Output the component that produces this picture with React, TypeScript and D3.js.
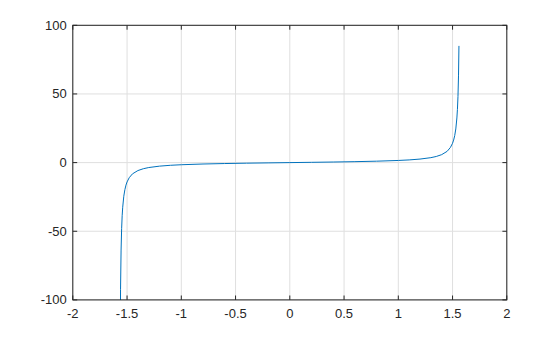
import React from "react";
import * as d3 from "d3";

const xTicks = [-2, -1.5, -1, -0.5, 0, 0.5, 1, 1.5, 2];
const yTicks = [-100, -50, 0, 50, 100];
const xTickLabels = ["-2", "-1.5", "-1", "-0.5", "0", "0.5", "1", "1.5", "2"];
const yTickLabels = ["-100", "-50", "0", "50", "100"];

const xs = [-1.566, -1.56, -1.555, -1.55, -1.545, -1.54, -1.53, -1.52, -1.51, -1.5, -1.48, -1.45, -1.4, -1.35, -1.3, -1.2, -1.1, -1.0, -0.8, -0.6, -0.4, -0.2, 0, 0.2, 0.4, 0.6, 0.8, 1.0, 1.1, 1.2, 1.3, 1.35, 1.4, 1.45, 1.48, 1.5, 1.51, 1.52, 1.53, 1.54, 1.545, 1.55, 1.555, 1.559];
const ys = [-208, -92.6, -63.7, -48.1, -38.7, -32.5, -24.5, -19.7, -16.4, -14.1, -11.0, -8.2, -5.8, -4.46, -3.6, -2.57, -1.96, -1.56, -1.03, -0.68, -0.42, -0.2, 0, 0.2, 0.42, 0.68, 1.03, 1.56, 1.96, 2.57, 3.6, 4.46, 5.8, 8.2, 11.0, 14.1, 16.4, 19.7, 24.5, 32.5, 38.7, 48.1, 63.7, 85.0];

export default function App() {
  const W = 560, H = 337;
  const left = 72.8, right = 506.8, top = 25.3, bottom = 299.9;
  const x = d3.scaleLinear().domain([-2, 2]).range([left, right]);
  const y = d3.scaleLinear().domain([-100, 100]).range([bottom, top]);
  const line = d3.line<number>().x((_, i) => x(xs[i])).y((d) => y(d));
  const axisColor = "#262626";
  const gridColor = "#dfdfdf";
  const tl = 4.4;
  return (
    <svg width={W} height={H} style={{ position: "absolute", left: 0, top: 0, background: "#fff" }}>
      <defs>
        <clipPath id="clip">
          <rect x={left} y={top} width={right - left} height={bottom - top} />
        </clipPath>
      </defs>
      <rect x={0} y={0} width={W} height={H} fill="#fff" />
      {xTicks.map((t) => (
        <line key={"gx" + t} x1={x(t)} x2={x(t)} y1={top} y2={bottom} stroke={gridColor} strokeWidth={1} />
      ))}
      {yTicks.map((t) => (
        <line key={"gy" + t} x1={left} x2={right} y1={y(t)} y2={y(t)} stroke={gridColor} strokeWidth={1} />
      ))}
      <path d={line(ys) || ""} fill="none" stroke="#0072BD" strokeWidth={1} clipPath="url(#clip)" />
      <rect x={left} y={top} width={right - left} height={bottom - top} fill="none" stroke={axisColor} strokeWidth={1} />
      {xTicks.map((t) => (
        <g key={"tx" + t}>
          <line x1={x(t)} x2={x(t)} y1={bottom} y2={bottom - tl} stroke={axisColor} />
          <line x1={x(t)} x2={x(t)} y1={top} y2={top + tl} stroke={axisColor} />
        </g>
      ))}
      {yTicks.map((t) => (
        <g key={"ty" + t}>
          <line x1={left} x2={left + tl} y1={y(t)} y2={y(t)} stroke={axisColor} />
          <line x1={right} x2={right - tl} y1={y(t)} y2={y(t)} stroke={axisColor} />
        </g>
      ))}
      {xTicks.map((t, i) => (
        <text key={"lx" + t} x={x(t)} y={bottom + 18} textAnchor="middle" fontFamily="Liberation Sans, Arial, sans-serif" fontSize={13} fill={axisColor}>
          {xTickLabels[i]}
        </text>
      ))}
      {yTicks.map((t, i) => (
        <text key={"ly" + t} x={left - 6} y={y(t) + 4.5} textAnchor="end" fontFamily="Liberation Sans, Arial, sans-serif" fontSize={13} fill={axisColor}>
          {yTickLabels[i]}
        </text>
      ))}
    </svg>
  );
}
